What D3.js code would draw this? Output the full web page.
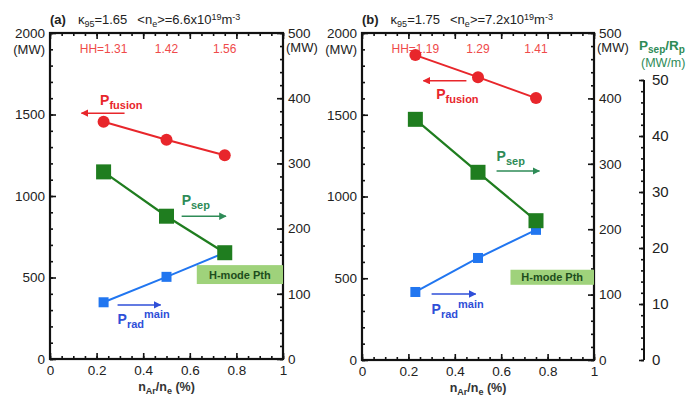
<!DOCTYPE html>
<html>
<head>
<meta charset="utf-8">
<script src="https://cdn.jsdelivr.net/npm/d3@7"></script>
<style>
  body { margin: 0; background: #fff; }
  svg { font-family: "Liberation Sans", Arial, sans-serif; }
</style>
</head>
<body>
<div id="wrap"></div>
<script>
var width = 691;
var height = 399;

// shared x values (nAr/ne %)
var xAr = [0.23, 0.5, 0.75];

// panel (a)
var pfusionA = [1455, 1345, 1250];   // left axis, MW
var psepA = [287, 219, 163];         // right axis, MW
var pradA = [87, 126, 163];          // right axis, MW
var hhA = ["HH=1.31", "1.42", "1.56"];

// panel (b)
var pfusionB = [1865, 1730, 1602];
var psepB = [368, 287, 213];
var pradB = [104, 156, 199];
var hhB = ["HH=1.19", "1.29", "1.41"];

var leftTicks = [0, 500, 1000, 1500, 2000];
var rightTicks = [0, 100, 200, 300, 400, 500];
var xTicks = [0, 0.2, 0.4, 0.6, 0.8, 1];
var thirdTicks = [0, 10, 20, 30, 40, 50];

var red = "#e8262b", green = "#1f7d1f", blue = "#2176f0";
var textGreen = "#2e8b57", textBlue = "#2f4fd8", hhRed = "#ef4a4a";

var svg = d3.select("#wrap").append("svg")
  .attr("width", width).attr("height", height);

var defs = svg.append("defs");
function marker(id, col) {
  defs.append("marker").attr("id", id)
    .attr("viewBox", "0 0 10 10").attr("refX", 9).attr("refY", 5)
    .attr("markerWidth", 5).attr("markerHeight", 5).attr("orient", "auto")
    .append("path").attr("d", "M0,0L10,5L0,10Z").attr("fill", col);
}
marker("arR", red);
marker("arG", textGreen);
marker("arB", textBlue);

function panel(o) {
  var g = svg.append("g");
  var x = d3.scaleLinear().domain([0, 1]).range([o.left, o.right]);
  var yL = d3.scaleLinear().domain([0, 2000]).range([o.bottom, o.top]);
  var yR = d3.scaleLinear().domain([0, 500]).range([o.bottom, o.top]);

  // minor ticks
  g.append("g").attr("transform", `translate(${o.left},0)`)
    .call(d3.axisLeft(yL).tickValues(d3.range(0, 2001, 100)).tickSize(-3).tickFormat(""));
  g.append("g").attr("transform", `translate(${o.right},0)`)
    .call(d3.axisRight(yR).tickValues(d3.range(0, 501, 20)).tickSize(-3).tickFormat(""));
  g.append("g").attr("transform", `translate(0,${o.bottom})`)
    .call(d3.axisBottom(x).tickValues(d3.range(0, 1.001, 0.05)).tickSize(-3).tickFormat(""));
  g.append("g").attr("transform", `translate(0,${o.top})`)
    .call(d3.axisTop(x).tickValues(d3.range(0, 1.001, 0.05)).tickSize(-3).tickFormat(""));

  // major ticks
  g.append("g").attr("transform", `translate(${o.left},0)`)
    .call(d3.axisLeft(yL).tickValues(leftTicks).tickSize(-6).tickPadding(5).tickFormat(d3.format("d")));
  g.append("g").attr("transform", `translate(${o.right},0)`)
    .call(d3.axisRight(yR).tickValues(rightTicks).tickSize(-6).tickPadding(5).tickFormat(d3.format("d")));
  g.append("g").attr("transform", `translate(0,${o.bottom})`)
    .call(d3.axisBottom(x).tickValues(xTicks).tickSize(-6).tickPadding(6).tickFormat(d3.format("")));
  g.append("g").attr("transform", `translate(0,${o.top})`)
    .call(d3.axisTop(x).tickValues(xTicks).tickSize(-6).tickFormat(""));

  g.selectAll(".tick line").attr("stroke", "#111").attr("stroke-width", 1.6);
  g.selectAll(".domain").remove();
  g.selectAll(".tick text").attr("font-size", 13.5).attr("fill", "#222");

  g.append("rect")
    .attr("x", o.left).attr("y", o.top)
    .attr("width", o.right - o.left).attr("height", o.bottom - o.top)
    .attr("fill", "none").attr("stroke", "#111").attr("stroke-width", 2.2);

  // (MW) unit labels
  g.append("text").attr("x", o.left - 5).attr("y", o.top + 21).attr("text-anchor", "end")
    .attr("font-size", 13).attr("fill", "#222").text("(MW)");
  g.append("text").attr("x", o.right + 3).attr("y", o.top + 19)
    .attr("font-size", 13).attr("fill", "#222").text("(MW)");

  // title
  var t = g.append("text").attr("x", o.left).attr("y", o.top - 9)
    .attr("font-size", 13).attr("fill", "#222");
  t.append("tspan").attr("font-weight", "bold").text(o.tag);
  t.append("tspan").attr("dx", 12).text("\u03ba");
  t.append("tspan").attr("font-size", 9).attr("dy", 3).text("95");
  t.append("tspan").attr("dy", -3).text("=" + o.kappa);
  t.append("tspan").attr("dx", 10).text("<n");
  t.append("tspan").attr("font-size", 9).attr("dy", 3).text("e");
  t.append("tspan").attr("dy", -3).text(">=" + o.ne + "x10");
  t.append("tspan").attr("font-size", 9).attr("dy", -4).text("19");
  t.append("tspan").attr("dy", 4).text("m");
  t.append("tspan").attr("font-size", 9).attr("dy", -4).text("-3");

  // x label
  var xl = g.append("text").attr("x", (o.left + o.right) / 2).attr("y", o.bottom + 32)
    .attr("text-anchor", "middle").attr("font-size", 12.5).attr("font-weight", "bold").attr("fill", "#333");
  xl.append("tspan").text("n");
  xl.append("tspan").attr("font-size", 9).attr("dy", 3).text("Ar");
  xl.append("tspan").attr("dy", -3).text("/n");
  xl.append("tspan").attr("font-size", 9).attr("dy", 3).text("e");
  xl.append("tspan").attr("dy", -3).text(" (%)");

  // HH labels
  g.selectAll(".hh").data(o.hh).join("text")
    .attr("x", (d, i) => x(xAr[i])).attr("y", o.top + 20)
    .attr("text-anchor", "middle").attr("font-size", 12).attr("fill", hhRed).text(d => d);

  // H-mode Pth box
  var b = o.hbox;
  g.append("rect").attr("x", x(b[0])).attr("y", yR(b[3]))
    .attr("width", x(b[1]) - x(b[0])).attr("height", yR(b[2]) - yR(b[3]))
    .attr("fill", "#9fd27b");
  g.append("text").attr("x", (x(b[0]) + x(b[1])) / 2).attr("y", yR((b[2] + b[3]) / 2) + 4)
    .attr("text-anchor", "middle").attr("font-size", 11).attr("font-weight", "bold").attr("fill", "#1d4d1d")
    .text("H-mode Pth");

  var line = d3.line();

  // Prad
  var pradPts = o.prad.map((v, i) => [x(xAr[i]), yR(v)]);
  g.append("path").attr("d", line(pradPts)).attr("fill", "none").attr("stroke", blue).attr("stroke-width", 2);
  g.selectAll(".pr").data(pradPts).join("rect")
    .attr("x", d => d[0] - 5).attr("y", d => d[1] - 5).attr("width", 10).attr("height", 10).attr("fill", blue);

  // Psep
  var psepPts = o.psep.map((v, i) => [x(xAr[i]), yR(v)]);
  g.append("path").attr("d", line(psepPts)).attr("fill", "none").attr("stroke", green).attr("stroke-width", 2.2);
  g.selectAll(".ps").data(psepPts).join("rect")
    .attr("x", d => d[0] - 7.5).attr("y", d => d[1] - 7.5).attr("width", 15).attr("height", 15).attr("fill", green);

  // Pfusion
  var pfPts = o.pfusion.map((v, i) => [x(xAr[i]), yL(v)]);
  g.append("path").attr("d", line(pfPts)).attr("fill", "none").attr("stroke", red).attr("stroke-width", 2);
  g.selectAll(".pf").data(pfPts).join("circle")
    .attr("cx", d => d[0]).attr("cy", d => d[1]).attr("r", 6).attr("fill", red);

  // arrows + labels (positions in data units of the right axis)
  function arrow(a, col, id) {
    g.append("line").attr("x1", x(a[0])).attr("x2", x(a[1]))
      .attr("y1", yR(a[2])).attr("y2", yR(a[2]))
      .attr("stroke", col).attr("stroke-width", 1.5).attr("marker-end", `url(#${id})`);
  }
  function label(p, main, sub, sup, col) {
    var tx = g.append("text").attr("x", x(p[0])).attr("y", yR(p[1]))
      .attr("font-size", 14).attr("font-weight", "bold").attr("fill", col);
    tx.append("tspan").text(main);
    if (sub) tx.append("tspan").attr("font-size", 11).attr("dy", 4).text(sub);
    if (sup) tx.append("tspan").attr("font-size", 11).attr("dy", -10).text(sup);
  }
  arrow(o.pfArrow, red, "arR");
  label(o.pfLabel, "P", "fusion", null, red);
  arrow(o.psArrow, textGreen, "arG");
  label(o.psLabel, "P", "sep", null, textGreen);
  arrow(o.prArrow, textBlue, "arB");
  label(o.prLabel, "P", "rad", "main", textBlue);
  return g;
}

panel({
  tag: "(a)", kappa: "1.65", ne: "6.6",
  left: 50, right: 283, top: 33, bottom: 359,
  pfusion: pfusionA, psep: psepA, prad: pradA, hh: hhA,
  hbox: [0.63, 1.0, 115, 144],
  pfArrow: [0.32, 0.135, 377], pfLabel: [0.215, 390],
  psArrow: [0.565, 0.755, 219], psLabel: [0.565, 236],
  prArrow: [0.29, 0.475, 83], prLabel: [0.29, 53]
});

panel({
  tag: "(b)", kappa: "1.75", ne: "7.2",
  left: 362, right: 594, top: 33, bottom: 360,
  pfusion: pfusionB, psep: psepB, prad: pradB, hh: hhB,
  hbox: [0.64, 1.0, 115, 138],
  pfArrow: [0.45, 0.265, 427], pfLabel: [0.32, 399],
  psArrow: [0.58, 0.765, 289], psLabel: [0.58, 304],
  prArrow: [0.30, 0.49, 101], prLabel: [0.30, 71]
});

// third axis: Psep/Rp
var y3 = d3.scaleLinear().domain([0, 50]).range([360, 80]);
var g3 = svg.append("g").attr("transform", "translate(644,0)");
g3.call(d3.axisRight(y3).tickValues(d3.range(0, 51, 2)).tickSize(-3).tickFormat(""));
g3.append("g").call(d3.axisRight(y3).tickValues(thirdTicks).tickSize(-5).tickPadding(8).tickFormat(d3.format("d")));
g3.selectAll(".tick line").attr("stroke", "#111").attr("stroke-width", 1.6);
g3.selectAll(".domain").attr("stroke", "#111").attr("stroke-width", 2).attr("d", "M0,80V360");
g3.selectAll(".tick text").attr("font-size", 15).attr("fill", "#222");

var h3 = svg.append("text").attr("x", 639).attr("y", 50)
  .attr("font-size", 13.5).attr("font-weight", "bold").attr("fill", textGreen);
h3.append("tspan").text("P");
h3.append("tspan").attr("font-size", 10).attr("dy", 3).text("sep");
h3.append("tspan").attr("dy", -3).text("/R");
h3.append("tspan").attr("font-size", 10).attr("dy", 3).text("p");
svg.append("text").attr("x", 641).attr("y", 67)
  .attr("font-size", 12.5).attr("fill", textGreen).text("(MW/m)");
</script>
</body>
</html>
